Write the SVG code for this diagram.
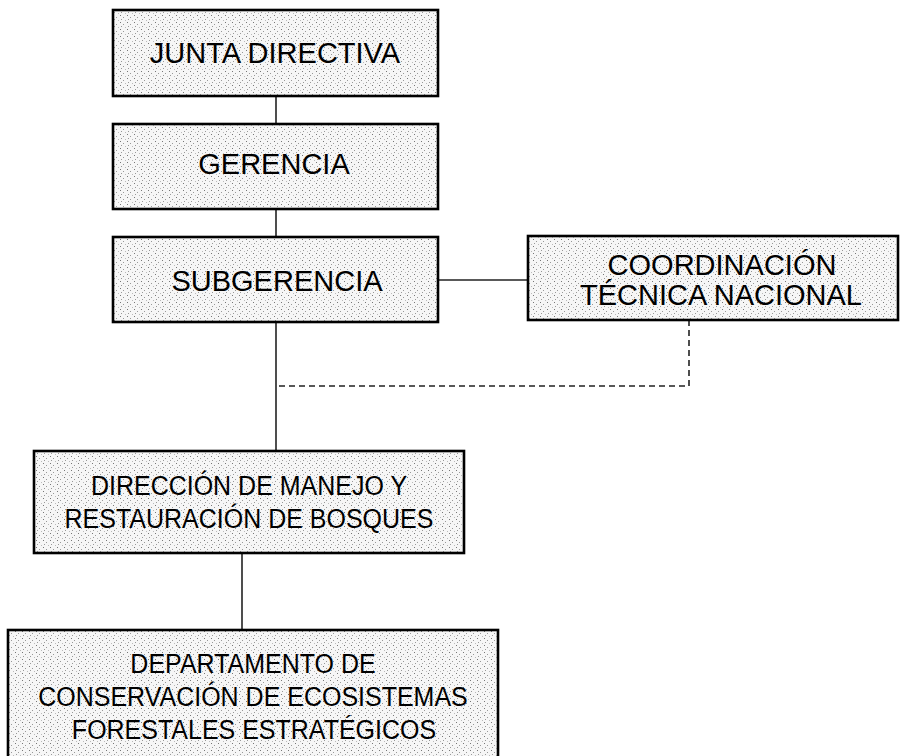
<svg xmlns="http://www.w3.org/2000/svg" width="901" height="756" viewBox="0 0 901 756">
<style>
.box{fill:url(#stip);stroke:#000;stroke-width:2.6}
.lbl{font-family:"Liberation Sans",Arial,sans-serif;fill:#000;text-anchor:middle}
.big{font-size:29px}
.mid{font-size:25px}
.conn{stroke:#222;stroke-width:1.6;fill:none}
.dash{stroke:#222;stroke-width:1.6;fill:none;stroke-dasharray:6,4}
</style>
<defs>
<pattern id="stip" width="7" height="7" patternUnits="userSpaceOnUse">
<rect width="7" height="7" fill="#f6f6f6"/>
<rect x="1" y="1" width="1" height="1" fill="#777"/>
<rect x="4" y="3" width="1" height="1" fill="#999"/>
<rect x="2" y="5" width="1" height="1" fill="#999"/>
<rect x="6" y="6" width="1" height="1" fill="#bbb"/>
</pattern>
</defs>
<rect width="901" height="756" fill="#fff"/>
<g id="connectors">
<line class="conn" x1="276" y1="96" x2="276" y2="124"/>
<line class="conn" x1="276" y1="209" x2="276" y2="237"/>
<line class="conn" x1="438" y1="280" x2="528" y2="280"/>
<line class="conn" x1="276" y1="322" x2="276" y2="451"/>
<polyline class="dash" points="689,320 689,386 276,386"/>
<line class="conn" x1="242" y1="553" x2="242" y2="630"/>
</g>
<g id="junta">
<rect class="box" x="113" y="10" width="325" height="86"/>
<text class="lbl big" x="275" y="63">JUNTA DIRECTIVA</text>
</g>
<g id="gerencia">
<rect class="box" x="113" y="124" width="325" height="85"/>
<text class="lbl big" x="274" y="174">GERENCIA</text>
</g>
<g id="subgerencia">
<rect class="box" x="113" y="237" width="325" height="85"/>
<text class="lbl big" x="277" y="291">SUBGERENCIA</text>
</g>
<g id="coordinacion">
<rect class="box" x="528" y="236" width="370" height="84"/>
<text class="lbl big" x="722" y="275">COORDINACIÓN</text>
<text class="lbl big" x="721" y="305">TÉCNICA NACIONAL</text>
</g>
<g id="direccion">
<rect class="box" x="34" y="451" width="430" height="102"/>
<text class="lbl mid" transform="translate(249,495) scale(1,1.12)">DIRECCIÓN DE MANEJO Y</text>
<text class="lbl mid" transform="translate(249,528) scale(1,1.12)">RESTAURACIÓN DE BOSQUES</text>
</g>
<g id="departamento">
<rect class="box" x="8" y="630" width="490" height="135"/>
<text class="lbl mid" transform="translate(253,673) scale(1,1.12)">DEPARTAMENTO DE</text>
<text class="lbl mid" transform="translate(253,706) scale(1,1.12)">CONSERVACIÓN DE ECOSISTEMAS</text>
<text class="lbl mid" transform="translate(254,739) scale(1,1.12)">FORESTALES ESTRATÉGICOS</text>
</g>
</svg>
